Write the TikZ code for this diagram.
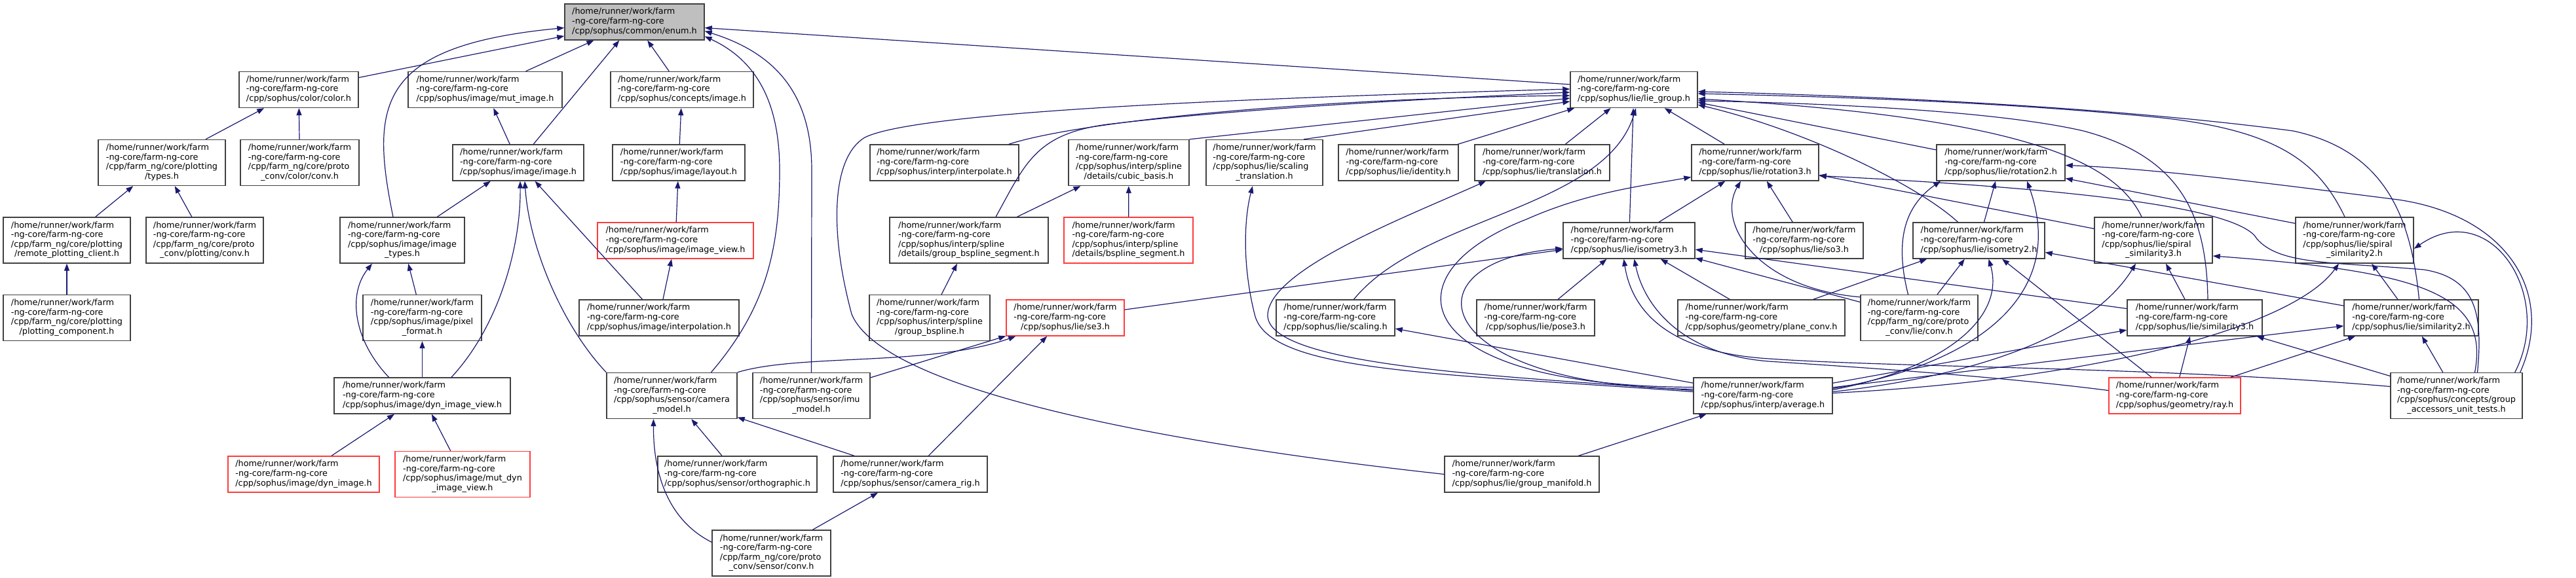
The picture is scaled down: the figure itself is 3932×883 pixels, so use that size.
\documentclass[tikz,border=0pt]{standalone}
\usepackage{fontspec}
\setmainfont{DejaVu Sans}
\usetikzlibrary{arrows.meta}
\definecolor{edgeblue}{HTML}{191970}
\definecolor{rootgray}{HTML}{BFBFBF}
\definecolor{truncred}{HTML}{FF3B3B}
\newcommand{\fpath}[2]{\begin{tabular}{@{}l@{}}/home/runner/work/farm\\-ng-core/farm-ng-core\\#1\multicolumn{1}{@{}c@{}}{#2}\end{tabular}}

\begin{document}
\begin{tikzpicture}[x=1pt,y=-1pt,
    hdr/.style={draw=black!75, fill=white, line width=1.4pt, inner sep=0pt, minimum height=55pt, font=\fontsize{12.8}{14.6}\selectfont},
    hdrtall/.style={hdr, minimum height=70pt},
    hdrroot/.style={hdr, fill=rootgray},
    trunc/.style={draw=truncred},
    inc/.style={draw=edgeblue, line width=1.2pt, -{Triangle[length=11pt,width=8pt]}}]
\useasboundingbox (0,0) rectangle (3932,883);

% row 0
\node[hdrroot, minimum width=213pt] (enumh) at (968.5,33.5) {\fpath{}{/cpp/sophus/common/enum.h}};
% row 1
\node[hdr, minimum width=182pt] (colorh) at (456,137) {\fpath{}{/cpp/sophus/color/color.h}};
\node[hdr, minimum width=235pt] (mutimage) at (740.5,137) {\fpath{}{/cpp/sophus/image/mut\_image.h}};
\node[hdr, minimum width=218pt] (conceptsimage) at (1041,137) {\fpath{}{/cpp/sophus/concepts/image.h}};
\node[hdr, minimum width=194pt] (liegroup) at (2494,137) {\fpath{}{/cpp/sophus/lie/lie\_group.h}};
% row 2
\node[hdrtall, minimum width=194pt] (plottypes) at (247,248.5) {\fpath{/cpp/farm\_ng/core/plotting\\}{/types.h}};
\node[hdrtall, minimum width=181pt] (colorconv) at (457.5,248.5) {\fpath{/cpp/farm\_ng/core/proto\\}{\_conv/color/conv.h}};
\node[hdr, minimum width=200pt] (imageh) at (791,248.5) {\fpath{}{/cpp/sophus/image/image.h}};
\node[hdr, minimum width=202pt] (layouth) at (1036,248.5) {\fpath{}{/cpp/sophus/image/layout.h}};
\node[hdr, minimum width=227pt] (interpolateh) at (1441.5,248.5) {\fpath{}{/cpp/sophus/interp/interpolate.h}};
\node[hdrtall, minimum width=184pt] (cubicbasis) at (1723,248.5) {\fpath{/cpp/sophus/interp/spline\\}{/details/cubic\_basis.h}};
\node[hdrtall, minimum width=178pt] (scalingtrans) at (1930,248.5) {\fpath{/cpp/sophus/lie/scaling\\}{\_translation.h}};
\node[hdr, minimum width=183pt] (identityh) at (2134.5,248.5) {\fpath{}{/cpp/sophus/lie/identity.h}};
\node[hdr, minimum width=206pt] (translationh) at (2354,248.5) {\fpath{}{/cpp/sophus/lie/translation.h}};
\node[hdr, minimum width=194pt] (rotation3) at (2679,248.5) {\fpath{}{/cpp/sophus/lie/rotation3.h}};
\node[hdr, minimum width=196pt] (rotation2) at (3054,248.5) {\fpath{}{/cpp/sophus/lie/rotation2.h}};
% row 3
\node[hdrtall, minimum width=194pt] (remoteclient) at (102,367) {\fpath{/cpp/farm\_ng/core/plotting\\}{/remote\_plotting\_client.h}};
\node[hdrtall, minimum width=179pt] (plotconv) at (312.5,367) {\fpath{/cpp/farm\_ng/core/proto\\}{\_conv/plotting/conv.h}};
\node[hdrtall, minimum width=190pt] (imagetypes) at (614,367) {\fpath{/cpp/sophus/image/image\\}{\_types.h}};
\node[hdr, trunc, minimum width=238pt] (imageview) at (1031,367.5) {\fpath{}{/cpp/sophus/image/image\_view.h}};
\node[hdrtall, minimum width=242pt] (groupbsplineseg) at (1479,367) {\fpath{/cpp/sophus/interp/spline\\}{/details/group\_bspline\_segment.h}};
\node[hdrtall, trunc, minimum width=197pt] (bsplineseg) at (1722.5,367) {\fpath{/cpp/sophus/interp/spline\\}{/details/bspline\_segment.h}};
\node[hdr, minimum width=201pt] (isometry3) at (2486.5,367.5) {\fpath{}{/cpp/sophus/lie/isometry3.h}};
\node[hdr, minimum width=180pt] (so3h) at (2754,367.5) {\fpath{}{/cpp/sophus/lie/so3.h}};
\node[hdr, minimum width=201pt] (isometry2) at (3020.5,367.5) {\fpath{}{/cpp/sophus/lie/isometry2.h}};
\node[hdrtall, minimum width=180pt] (spiralsim3) at (3287,367) {\fpath{/cpp/sophus/lie/spiral\\}{\_similarity3.h}};
\node[hdrtall, minimum width=180pt] (spiralsim2) at (3594,367) {\fpath{/cpp/sophus/lie/spiral\\}{\_similarity2.h}};
% row 4
\node[hdrtall, minimum width=194pt] (plotcomp) at (102,485.5) {\fpath{/cpp/farm\_ng/core/plotting\\}{/plotting\_component.h}};
\node[hdrtall, minimum width=181pt] (pixelformat) at (644.5,485.5) {\fpath{/cpp/sophus/image/pixel\\}{\_format.h}};
\node[hdr, minimum width=244pt] (interpolation) at (1006,485.5) {\fpath{}{/cpp/sophus/image/interpolation.h}};
\node[hdrtall, minimum width=184pt] (groupbspline) at (1419,485.5) {\fpath{/cpp/sophus/interp/spline\\}{/group\_bspline.h}};
\node[hdr, trunc, minimum width=180pt] (se3h) at (1626,485.5) {\fpath{}{/cpp/sophus/lie/se3.h}};
\node[hdr, minimum width=181pt] (scalingh) at (2038.5,485.5) {\fpath{}{/cpp/sophus/lie/scaling.h}};
\node[hdr, minimum width=180pt] (pose3h) at (2344,485.5) {\fpath{}{/cpp/sophus/lie/pose3.h}};
\node[hdr, minimum width=255pt] (planeconv) at (2688.5,485.5) {\fpath{}{/cpp/sophus/geometry/plane\_conv.h}};
\node[hdrtall, minimum width=179pt] (lieconv) at (2929.5,485.5) {\fpath{/cpp/farm\_ng/core/proto\\}{\_conv/lie/conv.h}};
\node[hdr, minimum width=206pt] (similarity3) at (3350,485.5) {\fpath{}{/cpp/sophus/lie/similarity3.h}};
\node[hdr, minimum width=205pt] (similarity2) at (3680.5,485.5) {\fpath{}{/cpp/sophus/lie/similarity2.h}};
% row 5
\node[hdr, minimum width=269pt] (dynimageview) at (644.5,604.5) {\fpath{}{/cpp/sophus/image/dyn\_image\_view.h}};
\node[hdrtall, minimum width=199pt] (cameramodel) at (1025.5,604.5) {\fpath{/cpp/sophus/sensor/camera\\}{\_model.h}};
\node[hdrtall, minimum width=179pt] (imumodel) at (1238.5,604.5) {\fpath{/cpp/sophus/sensor/imu\\}{\_model.h}};
\node[hdr, minimum width=212pt] (averageh) at (2691,604.5) {\fpath{}{/cpp/sophus/interp/average.h}};
\node[hdr, trunc, minimum width=201pt] (rayh) at (3319.5,604.5) {\fpath{}{/cpp/sophus/geometry/ray.h}};
\node[hdrtall, minimum width=201pt] (groupaccessors) at (3749.5,604.5) {\fpath{/cpp/sophus/concepts/group\\}{\_accessors\_unit\_tests.h}};
% row 6
\node[hdr, trunc, minimum width=231pt] (dynimage) at (463.5,724.5) {\fpath{}{/cpp/sophus/image/dyn\_image.h}};
\node[hdrtall, trunc, minimum width=206pt] (mutdynimageview) at (706,724.5) {\fpath{/cpp/sophus/image/mut\_dyn\\}{\_image\_view.h}};
\node[hdr, minimum width=243pt] (orthographic) at (1125.5,724.5) {\fpath{}{/cpp/sophus/sensor/orthographic.h}};
\node[hdr, minimum width=235pt] (camerarig) at (1389.5,724.5) {\fpath{}{/cpp/sophus/sensor/camera\_rig.h}};
\node[hdr, minimum width=236pt] (groupmanifold) at (2323,724.5) {\fpath{}{/cpp/sophus/lie/group\_manifold.h}};
% row 7
\node[hdrtall, minimum width=181pt] (sensorconv) at (1177.5,845) {\fpath{/cpp/farm\_ng/core/proto\\}{\_conv/sensor/conv.h}};

% includes of enum.h
\draw[inc] (colorh) -- (enumh);
\draw[inc] (mutimage) -- (enumh);
\draw[inc] (conceptsimage) -- (enumh);
\draw[inc] (imageh) -- (enumh);
\draw[inc] ([xshift=-14pt]imagetypes.north) .. controls (565,160) and (575,70) .. ([yshift=-9pt]enumh.west);
\draw[inc] ([xshift=60pt]cameramodel.north) .. controls (1170,470) and (1190,380) .. (1190,260) .. controls (1190,150) and (1150,90) .. ([yshift=-22pt]enumh.east);
\draw[inc] (imumodel.north) -- (1239,260) .. controls (1239,140) and (1180,80) .. ([yshift=-14pt]enumh.east);
\draw[inc] ([yshift=8pt]liegroup.west) -- ([yshift=-9pt]enumh.east);

% image side
\draw[inc] (plottypes) -- (colorh);
\draw[inc] (colorconv) -- (colorh);
\draw[inc] (remoteclient) -- (plottypes);
\draw[inc] (plotconv) -- (plottypes);
\draw[inc] (plotcomp) -- (remoteclient);
\draw[inc] (imageh) -- (mutimage);
\draw[inc] (imagetypes) -- (imageh);
\draw[inc] ([xshift=44.5pt]dynimageview.north) .. controls (760,500) and (795,380) .. ([xshift=3pt]imageh.south);
\draw[inc] (cameramodel.north west) .. controls (860,500) and (808,380) .. ([xshift=10pt]imageh.south);
\draw[inc] (interpolation) -- (imageh);
\draw[inc] (layouth) -- (conceptsimage);
\draw[inc] (imageview) -- (layouth);
\draw[inc] (interpolation) -- (imageview);
\draw[inc] (pixelformat) -- (imagetypes);
\draw[inc] ([xshift=-51pt]dynimageview.north) .. controls (540,520) and (530,450) .. ([xshift=-46pt]imagetypes.south);
\draw[inc] (dynimageview) -- (pixelformat);
\draw[inc] (dynimage) -- (dynimageview);
\draw[inc] (mutdynimageview) -- (dynimageview);

% sensor
\draw[inc] (orthographic) -- (cameramodel);
\draw[inc] (camerarig) -- (cameramodel);
\draw[inc] (sensorconv) -- (camerarig);
\draw[inc] ([yshift=-19pt]sensorconv.north west) .. controls (1030,800) and (997,740) .. ([xshift=-28pt]cameramodel.south);
\draw[inc] (cameramodel.north east) .. controls (1220,540) and (1420,560) .. ([xshift=15pt]se3h.south west);
\draw[inc] (imumodel) -- (se3h);
\draw[inc] (camerarig) -- (se3h);
\draw[inc] (se3h) -- (isometry3);

% interp
\draw[inc] (groupbspline) -- (groupbsplineseg);
\draw[inc] (groupbsplineseg) -- (cubicbasis);
\draw[inc] (bsplineseg) -- (cubicbasis);
\draw[inc] ([xshift=41pt]groupbsplineseg.north) .. controls (1565,250) and (1580,205) .. (1690,190) .. controls (1900,165) and (2200,150) .. ([yshift=-4pt]liegroup.west);
\draw[inc] ([xshift=-16pt]interpolateh.north east) .. controls (1650,185) and (2000,150) .. ([yshift=-9pt]liegroup.west);
\draw[inc] (cubicbasis.north east) -- ([yshift=-13pt]liegroup.west);
\draw[inc] (groupmanifold.west) .. controls (1800,680) and (1350,600) .. (1300,480) .. controls (1265,350) and (1270,240) .. (1320,210) .. controls (1400,170) and (1900,150) .. ([yshift=1pt]liegroup.west);
\draw[inc] (groupmanifold) -- (averageh);

% lie groups
\draw[inc] ([xshift=60pt]scalingtrans.north) -- ([yshift=-18pt]liegroup.west);
\draw[inc] (identityh) -- (liegroup);
\draw[inc] (translationh) -- (liegroup);
\draw[inc] (rotation3) -- (liegroup);
\draw[inc] (isometry3) -- (liegroup);
\draw[inc] ([xshift=28pt]scalingh.north) .. controls (2170,330) and (2450,320) .. ([xshift=3pt]liegroup.south);
\draw[inc] (rotation2) -- (liegroup);
\draw[inc] ([xshift=-32pt]isometry2.north) .. controls (2930,285) and (2760,200) .. ([yshift=-23pt]liegroup.east);
\draw[inc] ([xshift=-18pt]spiralsim3.north) .. controls (3230,250) and (3100,180) .. ([yshift=-14pt]liegroup.east);
\draw[inc] ([xshift=20pt]similarity3.north) .. controls (3368,330) and (3330,240) .. (3180,200) .. controls (3050,170) and (2800,158) .. ([yshift=-17pt]liegroup.east);
\draw[inc] ([xshift=-15pt]spiralsim2.north) .. controls (3540,250) and (3480,200) .. (3300,180) .. controls (3050,155) and (2800,148) .. ([yshift=-6pt]liegroup.east);
\draw[inc] ([xshift=12pt]similarity2.north) .. controls (3680,330) and (3640,230) .. (3500,200) .. controls (3200,160) and (2800,145) .. ([yshift=-3pt]liegroup.east);

\draw[inc] (isometry3) -- (rotation3);
\draw[inc] (so3h) -- (rotation3);
\draw[inc] (spiralsim3) -- (rotation3);
\draw[inc] (pose3h) -- (isometry3);
\draw[inc] (planeconv) -- (isometry3);
\draw[inc] (planeconv) -- (isometry2);
\draw[inc] (lieconv) -- (isometry3);
\draw[inc] (lieconv) -- (isometry2);
\draw[inc] ([xshift=-17pt]lieconv.north) .. controls (2895,380) and (2900,320) .. ([xshift=-92pt]rotation2.south);
\draw[inc] ([yshift=-4pt]lieconv.north west) .. controls (2680,440) and (2620,340) .. ([xshift=-22pt]rotation3.south);
\draw[inc] (isometry2) -- (rotation2);
\draw[inc] ([yshift=-10pt]spiralsim2.north west) -- ([yshift=-24pt]rotation2.east);
\draw[inc] (similarity3) -- (isometry3);
\draw[inc] (similarity3) -- (spiralsim3);
\draw[inc] (similarity2) -- (isometry2);
\draw[inc] (similarity2) -- (spiralsim2);

% average.h
\draw[inc] (averageh) -- (scalingh);
\draw[inc] ([yshift=10pt]averageh.west) .. controls (2180,590) and (2140,400) .. ([yshift=-12pt]isometry3.west);
\draw[inc] ([yshift=13pt]averageh.west) .. controls (2150,590) and (2110,420) .. (2330,335) .. controls (2420,295) and (2500,285) .. ([yshift=-22pt]rotation3.west);
\draw[inc] ([yshift=8pt]averageh.west) .. controls (2300,575) and (1930,560) .. (1935,480) .. controls (1940,410) and (2150,330) .. ([xshift=-86pt]translationh.south);
\draw[inc] ([yshift=6pt]averageh.west) .. controls (2200,570) and (1935,570) .. (1915,480) .. controls (1895,400) and (1900,330) .. ([xshift=-18pt]scalingtrans.south);
\draw[inc] ([yshift=11pt]averageh.east) .. controls (3000,560) and (3160,460) .. ([xshift=40pt]rotation2.south);
\draw[inc] ([yshift=9pt]averageh.east) .. controls (2980,560) and (3060,480) .. ([xshift=15pt]isometry2.south);
\draw[inc] ([yshift=6pt]averageh.east) .. controls (3050,570) and (3200,500) .. ([xshift=-27pt]spiralsim3.south);
\draw[inc] ([yshift=4pt]averageh.east) .. controls (3200,580) and (3500,500) .. ([xshift=-24pt]spiralsim2.south);
\draw[inc] (averageh) -- (similarity3);
\draw[inc] (averageh) -- (similarity2);

% ray.h
\draw[inc] (rayh) -- (isometry2);
\draw[inc] (rayh) -- (similarity3);
\draw[inc] (rayh) -- (similarity2);
\draw[inc] ([yshift=8pt]rayh.west) .. controls (3050,575) and (2850,562) .. (2700,552) .. controls (2570,542) and (2510,470) .. ([xshift=8pt]isometry3.south);

% unit tests
\draw[inc] (groupaccessors) -- (similarity3);
\draw[inc] (groupaccessors) -- (similarity2);
\draw[inc] ([xshift=28pt]groupaccessors.north) .. controls (3800,450) and (3700,415) .. ([yshift=-24pt]spiralsim3.east);
\draw[inc] ([xshift=-12pt]groupaccessors.north east) .. controls (3900,450) and (3800,300) .. ([yshift=-13pt]spiralsim2.east);
\draw[inc] ([yshift=14pt]groupaccessors.west) .. controls (3300,560) and (2900,562) .. (2700,548) .. controls (2540,538) and (2490,470) .. ([xshift=-8pt]isometry3.south);
\draw[inc] ([xshift=-4pt]groupaccessors.north east) .. controls (3900,450) and (3830,330) .. (3660,305) .. controls (3500,285) and (3300,258) .. ([yshift=-4pt]rotation2.east);
\draw[inc] ([xshift=32pt]groupaccessors.north) .. controls (3790,480) and (3780,425) .. (3700,412) .. controls (3560,400) and (3480,405) .. (3445,365) .. controls (3420,320) and (3200,290) .. ([yshift=-20pt]rotation3.east);
\end{tikzpicture}
\end{document}
